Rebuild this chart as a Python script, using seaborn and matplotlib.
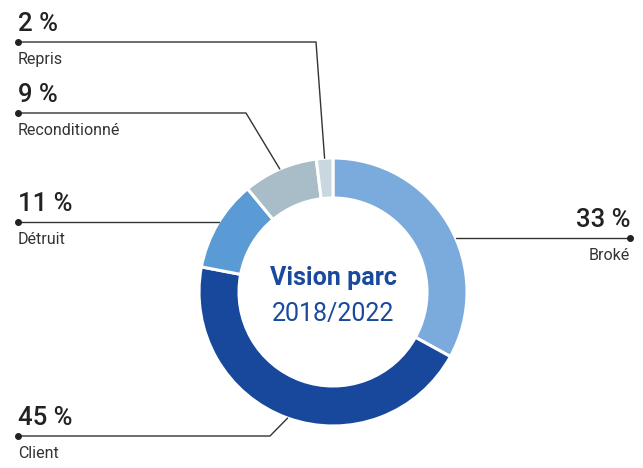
import numpy as np
import seaborn as sns
import matplotlib.pyplot as plt

# Data
categories = ["Broké", "Client", "Détruit", "Reconditionné", "Repris"]
shares = [33, 45, 11, 9, 2]
colors = ["#7BAADC", "#17489C", "#5B9BD5", "#A8BDC8", "#C9D7E0"]

# Layout (pixels)
cx, cy, R, ring = 333, 292, 134, 40
label_y = [238, 436, 222, 113, 42]
elbow_x = [None, 270, None, 246, 316]
right_side = [True, False, False, False, False]

sns.set_theme(style="white")
plt.rcParams["font.family"] = ["Roboto", "DejaVu Sans"]

fig = plt.figure(figsize=(6.43, 4.68), dpi=100)
ax = fig.add_axes([0, 0, 1, 1])

wedges, _ = ax.pie(shares, colors=colors, startangle=-90, counterclock=True,
                   center=(cx, cy), radius=R,
                   wedgeprops=dict(width=ring, edgecolor="white", linewidth=2.2))

line_c = "#333333"
for w, cat, val, ly, ex, right in zip(wedges, categories, shares, label_y, elbow_x, right_side):
    mid = np.deg2rad((w.theta1 + w.theta2) / 2)
    if ex is None:
        dy = ly - cy
        dx = np.sqrt(R**2 - dy**2)
        end = (cx + dx if right else cx - dx, ly)
        pts = [end]
    else:
        end = (cx + R * np.cos(mid), cy + R * np.sin(mid))
        pts = [(ex, ly), end]
    x0 = 630 if right else 18
    xs = [x0] + [p[0] for p in pts]
    ys = [ly] + [p[1] for p in pts]
    ax.plot(xs, ys, color=line_c, lw=1)
    ax.plot([x0], [ly], "o", color="#222222", ms=4)
    ha = "right" if right else "left"
    ax.text(x0, ly - 11, f"{val} %", ha=ha, va="baseline", fontsize=18.5,
            color="#222222", fontweight="medium")
    ax.text(x0, ly + 10, cat, ha=ha, va="top", fontsize=11.5, color="#333333")

ax.text(cx, cy - 7, "Vision parc", ha="center", va="baseline", fontsize=18,
        fontweight="bold", color="#1A4A9C")
ax.text(cx, cy + 29, "2018/2022", ha="center", va="baseline", fontsize=18,
        color="#1A4A9C")

ax.set_xlim(0, 643)
ax.set_ylim(468, 0)
ax.axis("off")

plt.savefig("out.png", dpi=100)
plt.close()
